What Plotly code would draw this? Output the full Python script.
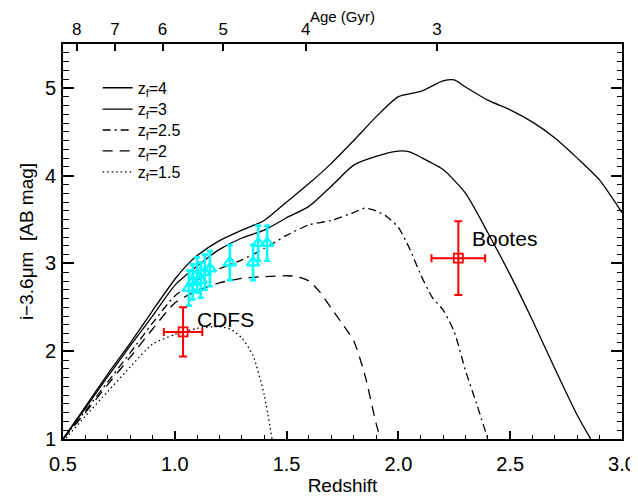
import plotly.graph_objects as go

# ---- model tracks (redshift, i-3.6um colour) ----
zf4_z = [0.5,0.6,0.7,0.8,0.9,1.0,1.05,1.1,1.2,1.3,1.4,1.5,1.6,1.7,1.8,1.9,2.0,2.1,2.2,2.25,2.3,2.4,2.5,2.6,2.7,2.8,2.9,3.0]
zf4_c = [1.0,1.37,1.74,2.09,2.46,2.82,2.97,3.09,3.26,3.38,3.49,3.70,3.91,4.14,4.40,4.67,4.90,4.96,5.08,5.09,5.01,4.86,4.75,4.61,4.43,4.20,3.95,3.58]

zf3_z = [0.5,0.6,0.7,0.8,0.9,1.0,1.1,1.2,1.3,1.4,1.5,1.6,1.7,1.8,1.9,2.0,2.05,2.1,2.2,2.3,2.4,2.5,2.6,2.7,2.8,2.86]
zf3_c = [1.0,1.35,1.71,2.06,2.40,2.75,2.97,3.16,3.29,3.38,3.52,3.65,3.88,4.12,4.22,4.28,4.27,4.21,4.07,3.80,3.35,2.87,2.35,1.80,1.27,1.0]

zf25_z = [0.5,0.6,0.7,0.8,0.9,1.0,1.1,1.2,1.3,1.4,1.5,1.6,1.7,1.8,1.85,1.9,1.95,2.0,2.05,2.1,2.15,2.2,2.25,2.3,2.35,2.4]
zf25_c = [1.0,1.32,1.65,1.98,2.32,2.63,2.81,2.94,3.04,3.17,3.32,3.44,3.49,3.58,3.63,3.60,3.53,3.41,3.17,2.87,2.62,2.47,2.22,1.78,1.40,1.0]

zf2_z = [0.5,0.6,0.7,0.8,0.9,1.0,1.1,1.2,1.3,1.4,1.5,1.55,1.6,1.65,1.7,1.75,1.8,1.85,1.9,1.92]
zf2_c = [1.0,1.30,1.62,1.93,2.25,2.55,2.69,2.78,2.83,2.85,2.86,2.85,2.80,2.67,2.49,2.31,2.12,1.73,1.18,1.0]

zf15_z = [0.5,0.6,0.7,0.8,0.9,1.0,1.1,1.2,1.25,1.3,1.35,1.4,1.435]
zf15_c = [0.97,1.26,1.54,1.82,2.08,2.19,2.26,2.28,2.25,2.15,1.95,1.5,1.0]

# ---- cyan cluster galaxies ----
cyan_z = [1.063,1.08,1.10,1.116,1.134,1.157,1.246,1.35,1.373,1.413]
cyan_c = [2.72,2.79,2.87,2.81,2.90,2.94,3.01,3.01,3.23,3.23]
cyan_err = [0.2,0.2,0.2,0.2,0.2,0.2,0.2,0.2,0.2,0.2]

# ---- red points ----
red_names = ["CDFS", "Bootes"]
red_z = [1.037, 2.268]
red_c = [2.22, 3.06]
red_zerr = [0.086, 0.12]
red_cerr = [0.28, 0.42]

# ---- top axis: age ----
age_labels = ["8", "7", "6", "5", "4", "3"]
age_z = [0.561, 0.733, 0.945, 1.217, 1.586, 2.172]

FONT = "Liberation Sans"
fig = go.Figure()

models = [
    ("z<sub>f</sub>=4", zf4_z, zf4_c, "solid"),
    ("z<sub>f</sub>=3", zf3_z, zf3_c, "solid"),
    ("z<sub>f</sub>=2.5", zf25_z, zf25_c, "8px,4px,2px,4px"),
    ("z<sub>f</sub>=2", zf2_z, zf2_c, "10px,7px"),
    ("z<sub>f</sub>=1.5", zf15_z, zf15_c, "1.5px,3px"),
]
legend_names = ["legend", "legend2", "legend3", "legend4", "legend5"]
for (name, zz, cc, dash), lg in zip(models, legend_names):
    fig.add_trace(go.Scatter(x=zz, y=cc, mode="lines", name=name, legend=lg,
                             line=dict(color="black", width=1.3, dash=dash, shape="spline", smoothing=0.6)))

fig.add_trace(go.Scatter(
    x=cyan_z, y=cyan_c, mode="markers", showlegend=False,
    marker=dict(symbol="triangle-up-open", size=11, color="#00FFFF", line=dict(width=2.2, color="#00FFFF")),
    error_y=dict(type="data", array=cyan_err, color="#00FFFF", thickness=2.6, width=3)))

fig.add_trace(go.Scatter(
    x=red_z, y=red_c, mode="markers", showlegend=False,
    marker=dict(symbol="square-open", size=9, color="red", line=dict(width=1.8, color="red")),
    error_x=dict(type="data", array=red_zerr, color="red", thickness=2, width=4),
    error_y=dict(type="data", array=red_cerr, color="red", thickness=2, width=4)))

# invisible carrier trace so the top (age) axis is drawn
fig.add_trace(go.Scatter(x=age_z, y=[None] * len(age_z), xaxis="x2", yaxis="y",
                         mode="markers", showlegend=False, hoverinfo="skip"))

fig.add_annotation(x=1.09, y=2.36, text="CDFS", showarrow=False, xanchor="left", yanchor="middle",
                   font=dict(family=FONT, size=21, color="black"))
fig.add_annotation(x=2.32, y=3.28, text="Bootes", showarrow=False, xanchor="left", yanchor="middle",
                   font=dict(family=FONT, size=21, color="black"))

legend_y = [0.889, 0.835, 0.782, 0.729, 0.676]
legend_layout = {}
for lg, ly in zip(legend_names, legend_y):
    legend_layout[lg] = dict(x=0.062, y=ly, xanchor="left", yanchor="middle", bgcolor="rgba(0,0,0,0)",
                             font=dict(family=FONT, size=16), borderwidth=0)

# the page adds an 8px body margin, so the figure is made 8px smaller
fig.update_layout(
    width=630, height=490,
    margin=dict(l=55, r=16, t=36, b=59),
    paper_bgcolor="white", plot_bgcolor="white",
    font=dict(family=FONT, size=20, color="black"),
    **legend_layout,
    xaxis=dict(range=[0.5, 3.0], tickmode="linear", tick0=0.5, dtick=0.5, tickformat=".1f",
               ticks="inside", ticklen=8, tickwidth=1.5, tickcolor="black",
               showline=True, linecolor="black", linewidth=2, mirror=False,
               showgrid=False, zeroline=False, ticklabelstandoff=6, automargin=False,
               minor=dict(dtick=0.1, tick0=0.5, ticks="inside", ticklen=4, tickwidth=1.2, tickcolor="black", showgrid=False),
               title=dict(text="Redshift", font=dict(size=19), standoff=5)),
    xaxis2=dict(overlaying="x", side="top", range=[0.5, 3.0], tickmode="array", tickvals=age_z, ticktext=age_labels,
                ticks="inside", ticklen=7, tickwidth=1.5, tickcolor="black",
                showline=True, linecolor="black", linewidth=2, showgrid=False, zeroline=False,
                anchor="y", tickfont=dict(size=17), ticklabelstandoff=0, automargin=False,
                title=dict(text="Age (Gyr)", font=dict(size=15), standoff=0)),
    yaxis=dict(range=[1, 5.5], tickmode="linear", tick0=1, dtick=1,
               ticks="inside", ticklen=11, tickwidth=1.5, tickcolor="black",
               showline=True, linecolor="black", linewidth=2, mirror="ticks",
               showgrid=False, zeroline=False, ticklabelstandoff=1, automargin=False,
               minor=dict(dtick=0.1, tick0=1, ticks="inside", ticklen=5.5, tickwidth=1.2, tickcolor="black", showgrid=False),
               title=dict(text="i−3.6μm  [AB mag]", font=dict(size=19), standoff=6)),
)

fig.write_html("out.html")
